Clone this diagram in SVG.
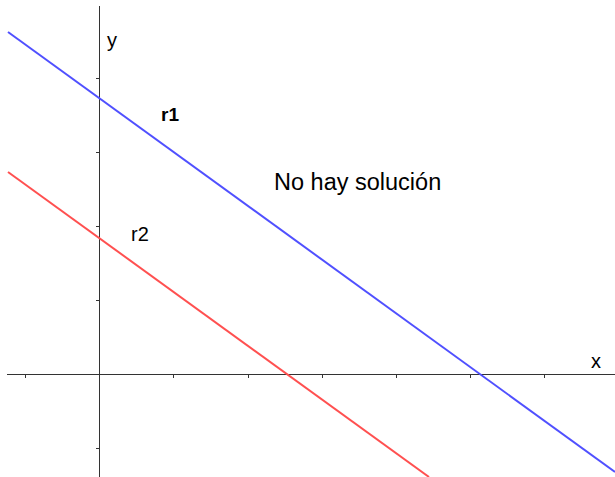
<svg xmlns="http://www.w3.org/2000/svg" width="615" height="477" viewBox="0 0 615 477">
<style>
.axis{stroke:#333;stroke-width:1;fill:none}
.tick{stroke:#333;stroke-width:1}
.lbl{font-family:"Liberation Sans",Arial,sans-serif;fill:#000}
</style>
<rect width="615" height="477" fill="#fff"/>
<g id="axes">
<line class="axis" x1="7" y1="374.5" x2="615" y2="374.5"/>
<line class="axis" x1="99.5" y1="6" x2="99.5" y2="477"/>
<g class="tick">
<line x1="25.5" y1="374.5" x2="25.5" y2="378"/>
<line x1="173.5" y1="374.5" x2="173.5" y2="378"/>
<line x1="248.5" y1="374.5" x2="248.5" y2="378"/>
<line x1="322.5" y1="374.5" x2="322.5" y2="378"/>
<line x1="396.5" y1="374.5" x2="396.5" y2="378"/>
<line x1="470.5" y1="374.5" x2="470.5" y2="378"/>
<line x1="544.5" y1="374.5" x2="544.5" y2="378"/>
<line x1="96" y1="78.5" x2="99.5" y2="78.5"/>
<line x1="96" y1="152.5" x2="99.5" y2="152.5"/>
<line x1="96" y1="226.5" x2="99.5" y2="226.5"/>
<line x1="96" y1="300.5" x2="99.5" y2="300.5"/>
<line x1="96" y1="448.5" x2="99.5" y2="448.5"/>
</g>
<text class="lbl" x="107" y="47" font-size="20">y</text>
<text class="lbl" x="591" y="368" font-size="20">x</text>
</g>
<g id="connectors">
<line id="r1-line" x1="8" y1="32" x2="615" y2="472" stroke="#5050ff" stroke-width="2"/>
<line id="r2-line" x1="8" y1="172" x2="429" y2="477" stroke="#ff5050" stroke-width="2"/>
</g>
<g id="r1"><text class="lbl" x="161" y="121" font-size="19" font-weight="bold">r1</text></g>
<g id="r2"><text class="lbl" x="131" y="241" font-size="20">r2</text></g>
<g id="msg"><text class="lbl" x="274" y="190" font-size="23.5">No hay solución</text></g>
</svg>
